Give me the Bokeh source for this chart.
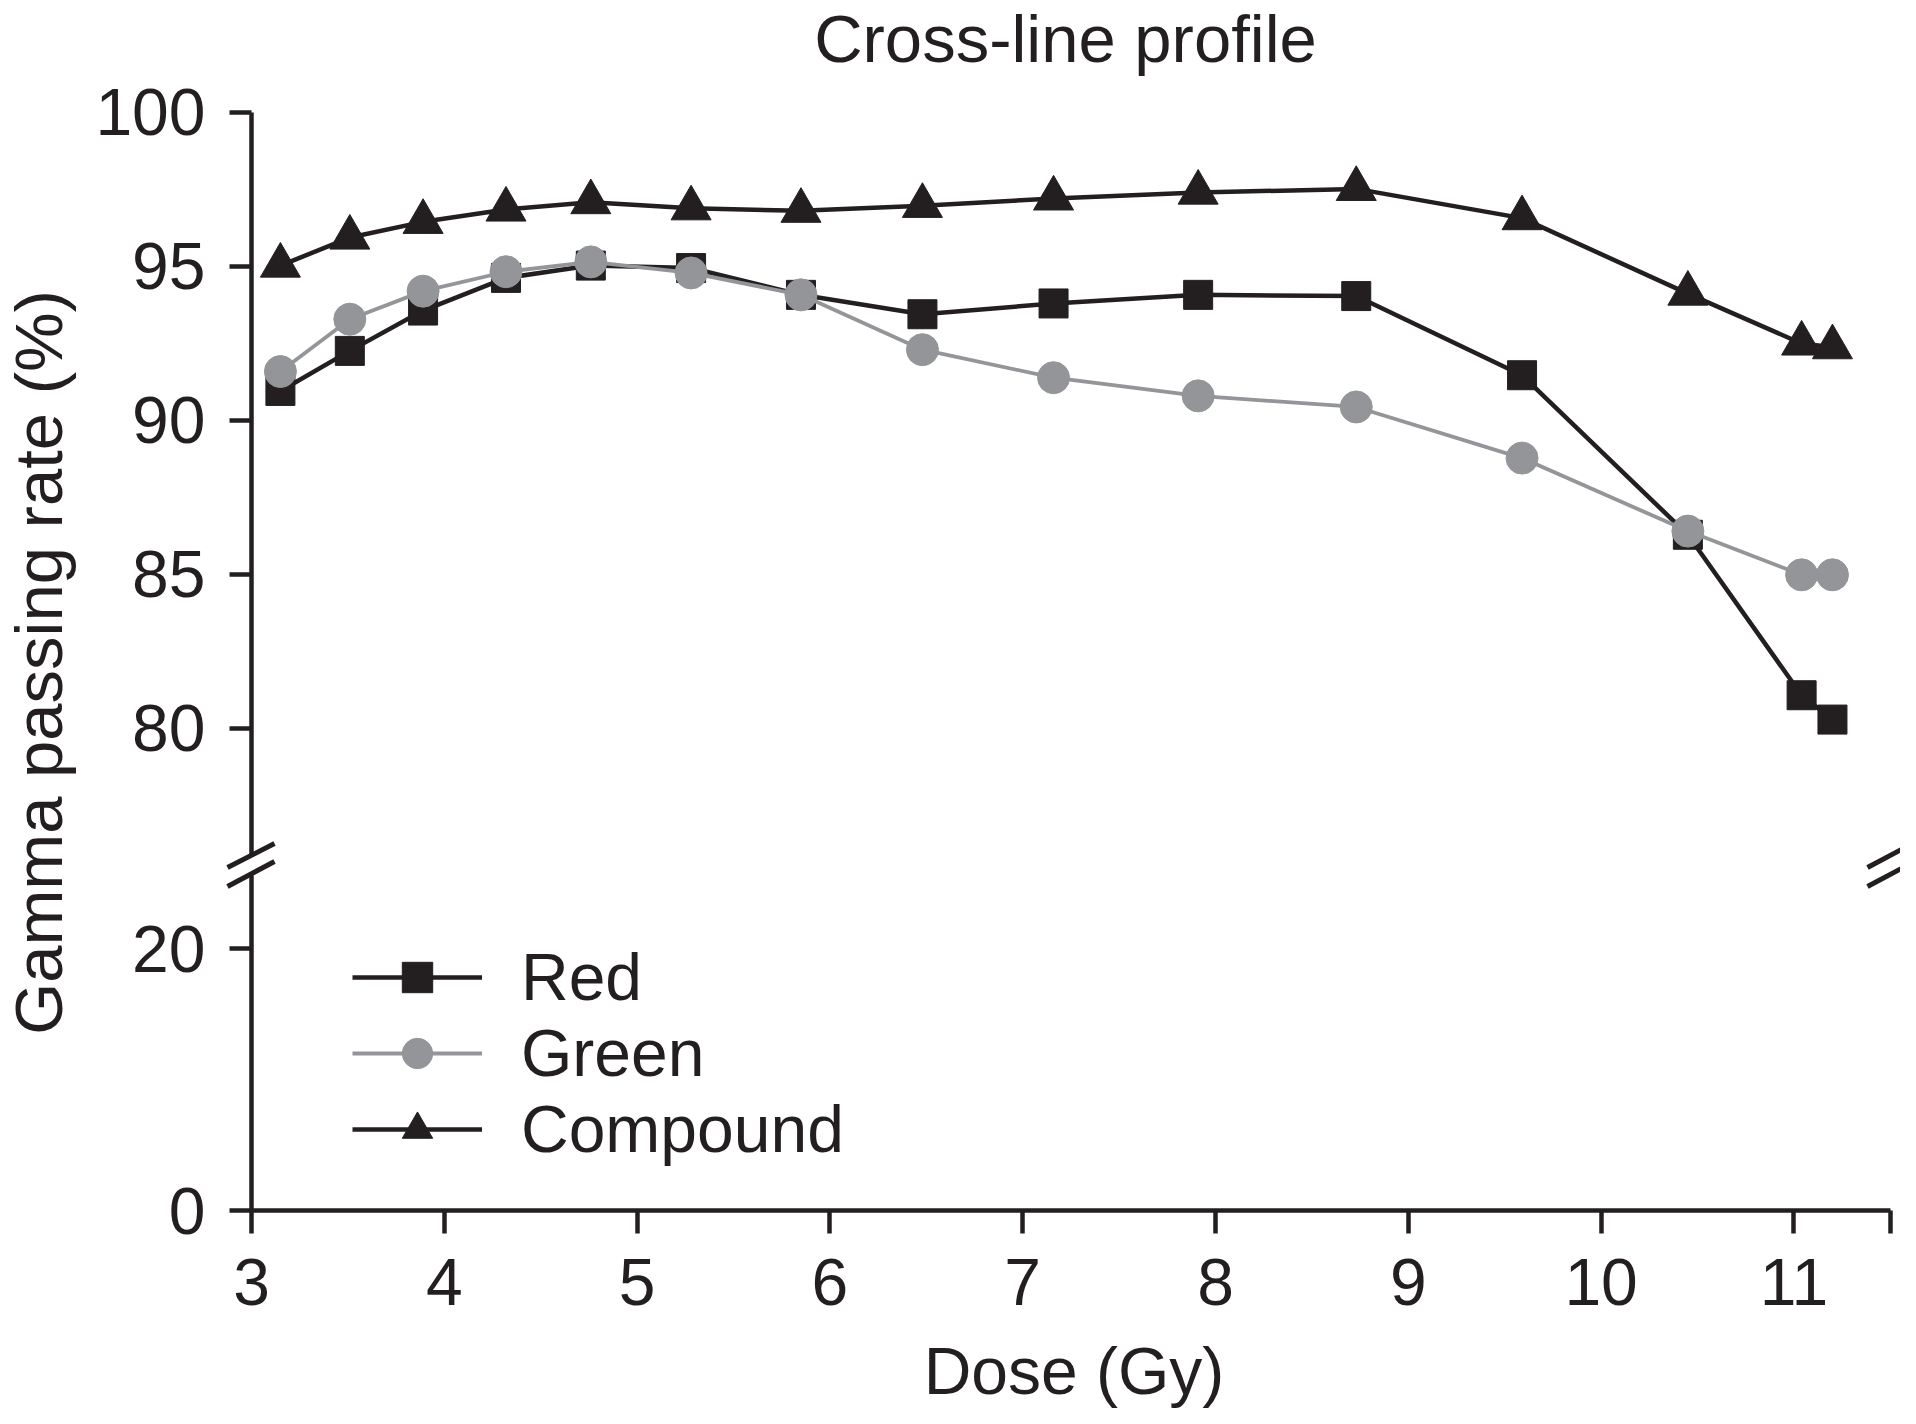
import math
from bokeh.plotting import figure
from bokeh.models import Range1d, FixedTicker, Label, Legend, LegendItem, LinearAxis
from bokeh.embed import file_html
from bokeh.resources import INLINE

# ---------------- data ----------------
dose = [3.15, 3.51, 3.89, 4.32, 4.76, 5.28, 5.85, 6.48, 7.16, 7.91, 8.73, 9.59, 10.45, 11.04, 11.20]
red = [90.95, 92.25, 93.56, 94.62, 95.02, 94.94, 94.07, 93.44, 93.79, 94.07, 94.03, 91.46, 86.28, 81.07, 80.28]
green = [91.58, 93.28, 94.19, 94.82, 95.14, 94.78, 94.07, 92.29, 91.38, 90.79, 90.43, 88.77, 86.40, 84.98, 84.98]
compound = [95.02, 95.93, 96.44, 96.84, 97.08, 96.88, 96.80, 96.96, 97.20, 97.39, 97.51, 96.56, 94.11, 92.49, 92.37]

x_ticks = [3, 4, 5, 6, 7, 8, 9, 10, 11, 11.5]
x_tick_labels = ["3", "4", "5", "6", "7", "8", "9", "10", "11", ""]
upper_ticks = [80, 85, 90, 95, 100]
lower_ticks = [0, 20]

title_text = "Cross-line profile"
x_label = "Dose (Gy)"
y_label = "Gamma passing rate (%)"
series_names = ["Red", "Green", "Compound"]

# ---------------- style ----------------
FONT = "Liberation Sans"
INK = "#231f20"
GREY = "#939598"
TICK_FS = "66px"
LABEL_FS = "66px"

W, H = 1900, 1408
# x: dose 3 at px 251, 192.8 px per Gy
X0 = 3 - 251 / 192.8
X1 = X0 + W / 192.8
# lower segment (default range): 0 at px 1210, 13.1 px per unit
LO1 = 1210 / 13.1
LO0 = LO1 - H / 13.1
# upper segment (named range): 100 at px 111.7, 30.8 px per unit
UP1 = 100 + 111.7 / 30.8
UP0 = UP1 - H / 30.8
UPPER_BOUNDS = (75.87, 100)
LOWER_BOUNDS = (0, 25.6)


def dx(px):
    return X0 + px * (X1 - X0) / W


def dy(py):
    return LO1 - py * (LO1 - LO0) / H


p = figure(width=W, height=H, toolbar_location=None, output_backend="svg",
           x_range=Range1d(X0, X1), y_range=Range1d(LO0, LO1),
           x_axis_location=None, y_axis_location=None, min_border=0)
p.extra_y_ranges = {"upper": Range1d(UP0, UP1)}
p.grid.visible = False
p.outline_line_color = None
p.background_fill_color = "white"
p.border_fill_color = "white"


def style_axis(ax):
    ax.axis_line_color = INK
    ax.axis_line_width = 4.5
    ax.major_tick_line_color = INK
    ax.major_tick_line_width = 4.5
    ax.major_tick_out = 22
    ax.major_tick_in = 0
    ax.minor_tick_line_color = None
    ax.major_label_text_font = FONT
    ax.major_label_text_font_size = TICK_FS
    ax.major_label_text_color = INK


# upper y axis
ya = LinearAxis(y_range_name="upper", fixed_location=3,
                ticker=FixedTicker(ticks=upper_ticks), bounds=UPPER_BOUNDS)
style_axis(ya)
ya.major_label_standoff = 24
p.add_layout(ya, "left")

# lower y axis
yb = LinearAxis(fixed_location=3, ticker=FixedTicker(ticks=lower_ticks), bounds=LOWER_BOUNDS)
style_axis(yb)
yb.major_label_standoff = 24
p.add_layout(yb, "left")

# x axis
xb = LinearAxis(fixed_location=0, ticker=FixedTicker(ticks=x_ticks), bounds=(3, 11.5))
style_axis(xb)
xb.major_label_overrides = {t: s for t, s in zip(x_ticks, x_tick_labels)}
xb.major_tick_out = 23
xb.major_label_standoff = 25
p.add_layout(xb, "below")

# series (upper segment)
rl = p.line(dose, red, line_color=INK, line_width=4.5, y_range_name="upper")
rs = p.scatter(dose, red, marker="square", size=29, fill_color=INK, line_color=INK,
               line_width=1, y_range_name="upper")
gl = p.line(dose, green, line_color=GREY, line_width=3.8, y_range_name="upper")
gs = p.scatter(dose, green, marker="circle", size=32, fill_color=GREY, line_color=GREY,
               line_width=1, y_range_name="upper")
cl = p.line(dose, compound, line_color=INK, line_width=4.5, y_range_name="upper")
cs = p.scatter(dose, compound, marker="triangle", size=40, fill_color=INK, line_color=INK,
               line_width=1, y_range_name="upper")

legend = Legend(items=[LegendItem(label=series_names[0], renderers=[rl, rs]),
                       LegendItem(label=series_names[1], renderers=[gl, gs]),
                       LegendItem(label=series_names[2], renderers=[cl, cs])],
                location=(352, 241), orientation="vertical",
                glyph_width=130, glyph_height=76, label_height=76, label_standoff=39,
                spacing=0, padding=0, margin=0,
                border_line_color=None, background_fill_alpha=0,
                label_text_font=FONT, label_text_font_size=LABEL_FS, label_text_color=INK)
p.add_layout(legend)

# axis-break marks (decoration, picture px)
marks = [((227, 867), (274, 843)), ((227, 886), (274, 861)),
         ((1867, 867), (1914, 842)), ((1867, 886), (1914, 861))]
p.segment(x0=[dx(a[0]) for a, b in marks], y0=[dy(a[1]) for a, b in marks],
          x1=[dx(b[0]) for a, b in marks], y1=[dy(b[1]) for a, b in marks],
          line_color=INK, line_width=5)

# texts
p.add_layout(Label(x=dx(1065), y=dy(61 - 23.2), text=title_text,
                   text_align="center", text_baseline="middle",
                   text_font=FONT, text_font_size="67px", text_color=INK))
p.add_layout(Label(x=dx(1073.5), y=dy(1393 - 22.9), text=x_label,
                   text_align="center", text_baseline="middle",
                   text_font=FONT, text_font_size=LABEL_FS, text_color=INK))
p.add_layout(Label(x=dx(61 - 23.2), y=dy(662), text=y_label, angle=math.pi / 2,
                   text_align="center", text_baseline="middle",
                   text_font=FONT, text_font_size="67px", text_color=INK))

open("out.html", "w").write(file_html(p, INLINE))
